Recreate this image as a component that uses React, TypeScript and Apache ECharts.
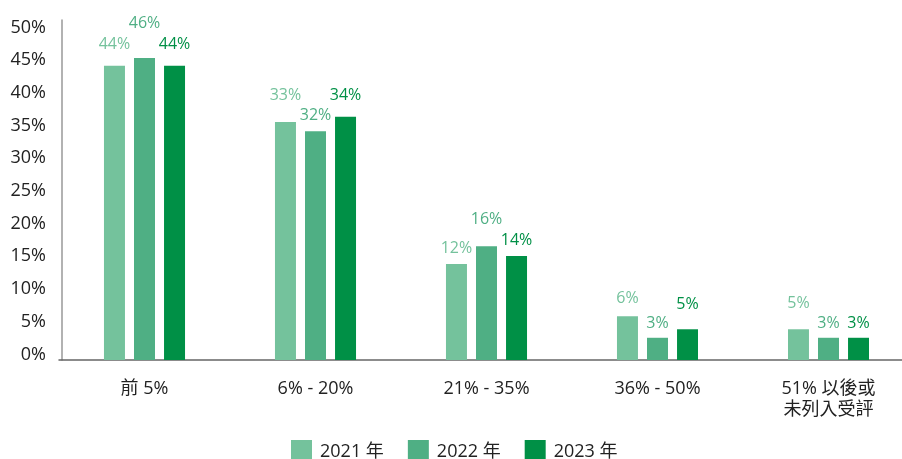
import React, { useEffect, useRef } from "react";
import * as echarts from "echarts";

const categories = ["前 5%", "6% - 20%", "21% - 35%", "36% - 50%", "51% 以後或\n未列入受評"];
const years = ["2021 年", "2022 年", "2023 年"];
const bars2021 = [45.0, 36.4, 14.7, 6.7, 4.7];
const bars2022 = [46.2, 35.0, 17.4, 3.4, 3.4];
const bars2023 = [45.0, 37.2, 15.9, 4.7, 3.4];
const labels2021 = ["44%", "33%", "12%", "6%", "5%"];
const labels2022 = ["46%", "32%", "16%", "3%", "3%"];
const labels2023 = ["44%", "34%", "14%", "5%", "3%"];

// layout: distance (px) from bar top to label centre
const lift2021 = [23, 28, 17, 19, 27];
const lift2022 = [36, 17, 28, 16, 16];
const lift2023 = [23, 23, 17, 26, 16];

const colors = ["#74c29c", "#4faf84", "#009046"];
const FONT = "'Open Sans', 'Noto Sans CJK TC', sans-serif";

function makeSeries(name: string, values: number[], labels: string[], lifts: number[], color: string, weight: any) {
  return {
    name,
    type: "bar",
    barWidth: 21,
    barGap: "43%",
    itemStyle: { color },
    data: values.map((v, i) => ({
      value: v,
      label: {
        show: true,
        position: "top",
        distance: lifts[i],
        verticalAlign: "middle",
        formatter: labels[i],
        color,
        fontSize: 16,
        fontWeight: weight,
        fontFamily: FONT,
      },
    })),
  };
}

export default function App() {
  const ref = useRef<HTMLDivElement>(null);
  useEffect(() => {
    if (!ref.current) return;
    const chart = echarts.init(ref.current, undefined, { renderer: "svg" });
    chart.setOption({
      animation: false,
      textStyle: { fontFamily: FONT },
      grid: { left: 59, width: 855, top: 20, height: 340, containLabel: false, outerBoundsMode: "none" },
      legend: {
        data: years,
        top: 440,
        left: 291,
        padding: 0,
        itemWidth: 21,
        itemHeight: 20,
        itemGap: 24,
        icon: "rect",
        textStyle: { fontSize: 18, lineHeight: 20, color: "#222", fontFamily: FONT, padding: [0, 0, 0, 3] },
      },
      xAxis: {
        type: "category",
        data: categories,
        axisLine: { lineStyle: { color: "#666", width: 1.5 } },
        axisTick: { show: false },
        axisLabel: { color: "#222", fontSize: 18, lineHeight: 21, margin: 16, fontFamily: FONT, interval: 0 },
      },
      yAxis: {
        type: "value",
        min: 0,
        max: 52,
        interval: 5,
        offset: -3,
        splitLine: { show: false },
        axisTick: { show: false },
        axisLine: { show: true, lineStyle: { color: "#999", width: 1.5 } },
        axisLabel: {
          color: "#222",
          fontSize: 18,
          margin: 16,
          fontFamily: FONT,
          verticalAlign: "bottom",
          lineHeight: 15,
          formatter: (v: number) => (Math.round(v) % 5 === 0 && v <= 50 ? `${v}%` : ""),
        },
      },
      series: [
        makeSeries(years[0], bars2021, labels2021, lift2021, colors[0], "normal"),
        makeSeries(years[1], bars2022, labels2022, lift2022, colors[1], "normal"),
        makeSeries(years[2], bars2023, labels2023, lift2023, colors[2], 500),
      ],
    });
    return () => chart.dispose();
  }, []);
  return <div ref={ref} style={{ position: "fixed", left: 0, top: 0, width: 902, height: 459 }} />;
}
